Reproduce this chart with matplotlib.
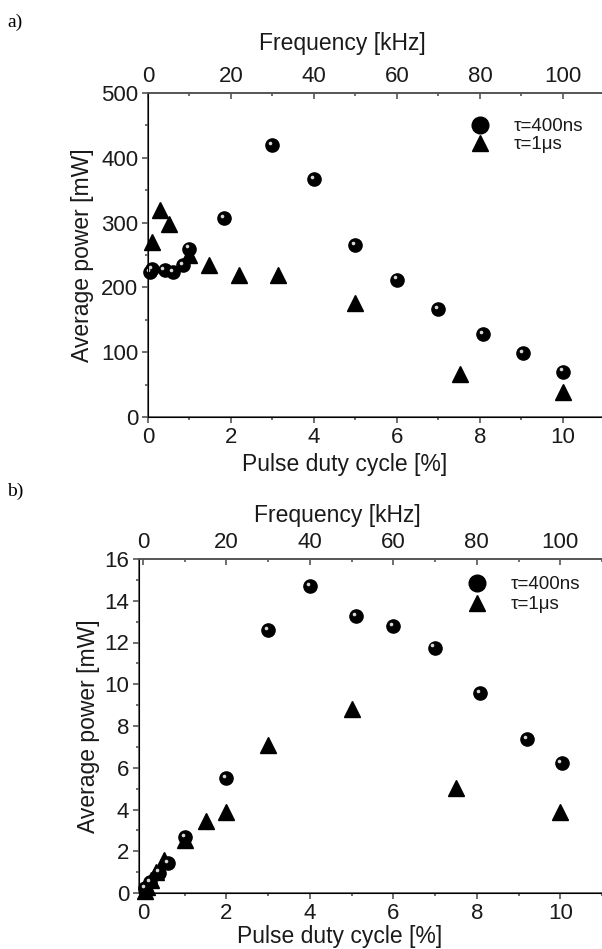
import numpy as np
import matplotlib
matplotlib.use('Agg')
import matplotlib.pyplot as plt
from matplotlib.lines import Line2D
from matplotlib.transforms import ScaledTranslation
from matplotlib.ticker import MultipleLocator

plt.rcParams['font.family'] = ['Liberation Sans', 'DejaVu Sans']

# panel a) data
a_duty_400 = [0.05, 0.1, 0.4, 0.6, 0.85, 1.0, 1.83, 3.0, 4.0, 5.0, 6.0, 7.0, 8.07, 9.03, 10.0]
a_power_400 = [224, 228, 227, 224, 234, 260, 307, 420, 367, 265, 212, 167, 128, 98, 70]
a_duty_1us = [0.1, 0.3, 0.5, 1.0, 1.46, 2.19, 3.14, 5.0, 7.53, 10.0]
a_power_1us = [270, 320, 298, 250, 235, 219, 219, 176, 67, 39]

# panel b) data
b_duty_400 = [0.05, 0.17, 0.39, 0.61, 1.0, 2.0, 3.0, 4.0, 5.1, 6.0, 6.99, 8.07, 9.2, 10.03]
b_power_400 = [0.22, 0.54, 0.98, 1.42, 2.66, 5.51, 12.6, 14.7, 13.25, 12.8, 11.75, 9.57, 7.39, 6.23]
b_duty_1us = [0.05, 0.1, 0.2, 0.3, 0.5, 1.0, 1.51, 2.0, 3.0, 5.02, 7.5, 9.99]
b_power_1us = [0.1, 0.3, 0.6, 1.0, 1.6, 2.55, 3.43, 3.86, 7.08, 8.83, 5.01, 3.86]

labels = ['τ=400ns', 'τ=1μs']
spine_col = '#555555'
text_col = '#1a1a1a'

fig = plt.figure(figsize=(6.02, 9.49), dpi=100)


def sphere(ax, x, y):
    ax.plot(x, y, 'o', color='black', ms=9.5, mec='black', zorder=3, clip_on=False)
    shift = ax.transData + ScaledTranslation(-1.6 / 72, 1.6 / 72, fig.dpi_scale_trans)
    ax.plot(x, y, 'o', color='#d8d8d8', ms=2.6, mew=0, transform=shift, zorder=4, clip_on=False)


def style(ax, top):
    for s in ['left', 'bottom', 'top']:
        ax.spines[s].set_color(spine_col)
        ax.spines[s].set_linewidth(1.2)
    ax.spines['right'].set_visible(False)
    ax.tick_params(which='major', direction='out', length=4, width=1.2, color=spine_col,
                   labelsize=16, labelcolor=text_col, pad=3, right=False, top=False)
    ax.tick_params(which='minor', direction='out', length=2.5, width=1.2, color=spine_col,
                   right=False, top=False)
    top.spines['right'].set_visible(False)
    top.spines['top'].set_color(spine_col)
    top.spines['top'].set_linewidth(1.2)
    top.tick_params(which='major', direction='in', length=4, width=1.2, color=spine_col,
                    labelsize=16, labelcolor=text_col, pad=4)
    top.tick_params(which='minor', direction='in', length=2.5, width=1.2, color=spine_col)
    top.xaxis.set_major_locator(MultipleLocator(20))
    top.xaxis.set_minor_locator(MultipleLocator(10))


# ---- panel a
ax1 = fig.add_axes([148 / 602, 1 - 417 / 949, 454 / 602, 324 / 949])
sphere(ax1, a_duty_400, a_power_400)
ax1.plot(a_duty_1us, a_power_1us, '^', color='black', ms=11, zorder=3, clip_on=False)
ax1.set_xlim(0, 10.94)
ax1.set_ylim(0, 500)
ax1.xaxis.set_major_locator(MultipleLocator(2))
ax1.xaxis.set_minor_locator(MultipleLocator(1))
ax1.yaxis.set_major_locator(MultipleLocator(100))
ax1.yaxis.set_minor_locator(MultipleLocator(50))
ax1.set_xlabel('Pulse duty cycle [%]', fontsize=16.5, color=text_col)
ax1.set_ylabel('Average power [mW]', fontsize=16.5, color=text_col)
ax1.xaxis.set_label_coords((345 - 148) / 454, -(453 - 417) / 324)
ax1.yaxis.set_label_coords((94 - 148) / 454, 0.5)
t1 = ax1.twiny()
t1.set_xlim(0, 109.4)
style(ax1, t1)
t1.set_xlabel('Frequency [kHz]', fontsize=16.5, color=text_col)
t1.xaxis.set_label_coords((342 - 148) / 454, 1 + (93 - 50) / 324)

h1 = [Line2D([], [], ls='', marker='o', color='black', ms=12),
      Line2D([], [], ls='', marker='^', color='black', ms=12)]
ax1.legend(h1, labels, loc='upper left', bbox_to_anchor=((461 - 148) / 454, 0.923),
           frameon=False, fontsize=13.5, borderpad=0, borderaxespad=0, labelspacing=0.05,
           handletextpad=0.8, labelcolor=text_col)

fig.text(7 / 602, 1 - 22 / 949, 'a)', family='Liberation Serif', fontsize=14, va='center')

# ---- panel b
ax2 = fig.add_axes([139 / 602, 1 - 893 / 949, 463 / 602, 334 / 949])
ax2.plot(b_duty_1us, b_power_1us, '^', color='black', ms=11, zorder=3, clip_on=False)
sphere(ax2, b_duty_400, b_power_400)
ax2.set_xlim(-0.096, 11.0)
ax2.set_ylim(0, 16)
ax2.xaxis.set_major_locator(MultipleLocator(2))
ax2.xaxis.set_minor_locator(MultipleLocator(1))
ax2.yaxis.set_major_locator(MultipleLocator(2))
ax2.yaxis.set_minor_locator(MultipleLocator(1))
ax2.set_xlabel('Pulse duty cycle [%]', fontsize=16.5, color=text_col)
ax2.set_ylabel('Average power [mW]', fontsize=16.5, color=text_col)
ax2.xaxis.set_label_coords((340 - 139) / 463, -(925 - 893) / 334)
ax2.yaxis.set_label_coords((100 - 139) / 463, 0.5)
t2 = ax2.twiny()
t2.set_xlim(-0.96, 110.0)
style(ax2, t2)
t2.set_xlabel('Frequency [kHz]', fontsize=16.5, color=text_col)
t2.xaxis.set_label_coords((337 - 139) / 463, 1 + (559 - 522) / 334)

h2 = [Line2D([], [], ls='', marker='o', color='black', ms=12),
      Line2D([], [], ls='', marker='^', color='black', ms=12)]
leg2 = ax2.legend(h2, labels, loc='upper left', bbox_to_anchor=((458 - 139) / 463, 0.948),
                  frameon=False, fontsize=13.5, borderpad=0, borderaxespad=0, labelspacing=0.15,
                  handletextpad=0.8, labelcolor=text_col)

fig.text(7 / 602, 1 - 491 / 949, 'b)', family='Liberation Serif', fontsize=14, va='center')

fig.savefig('out.png', dpi=100)
